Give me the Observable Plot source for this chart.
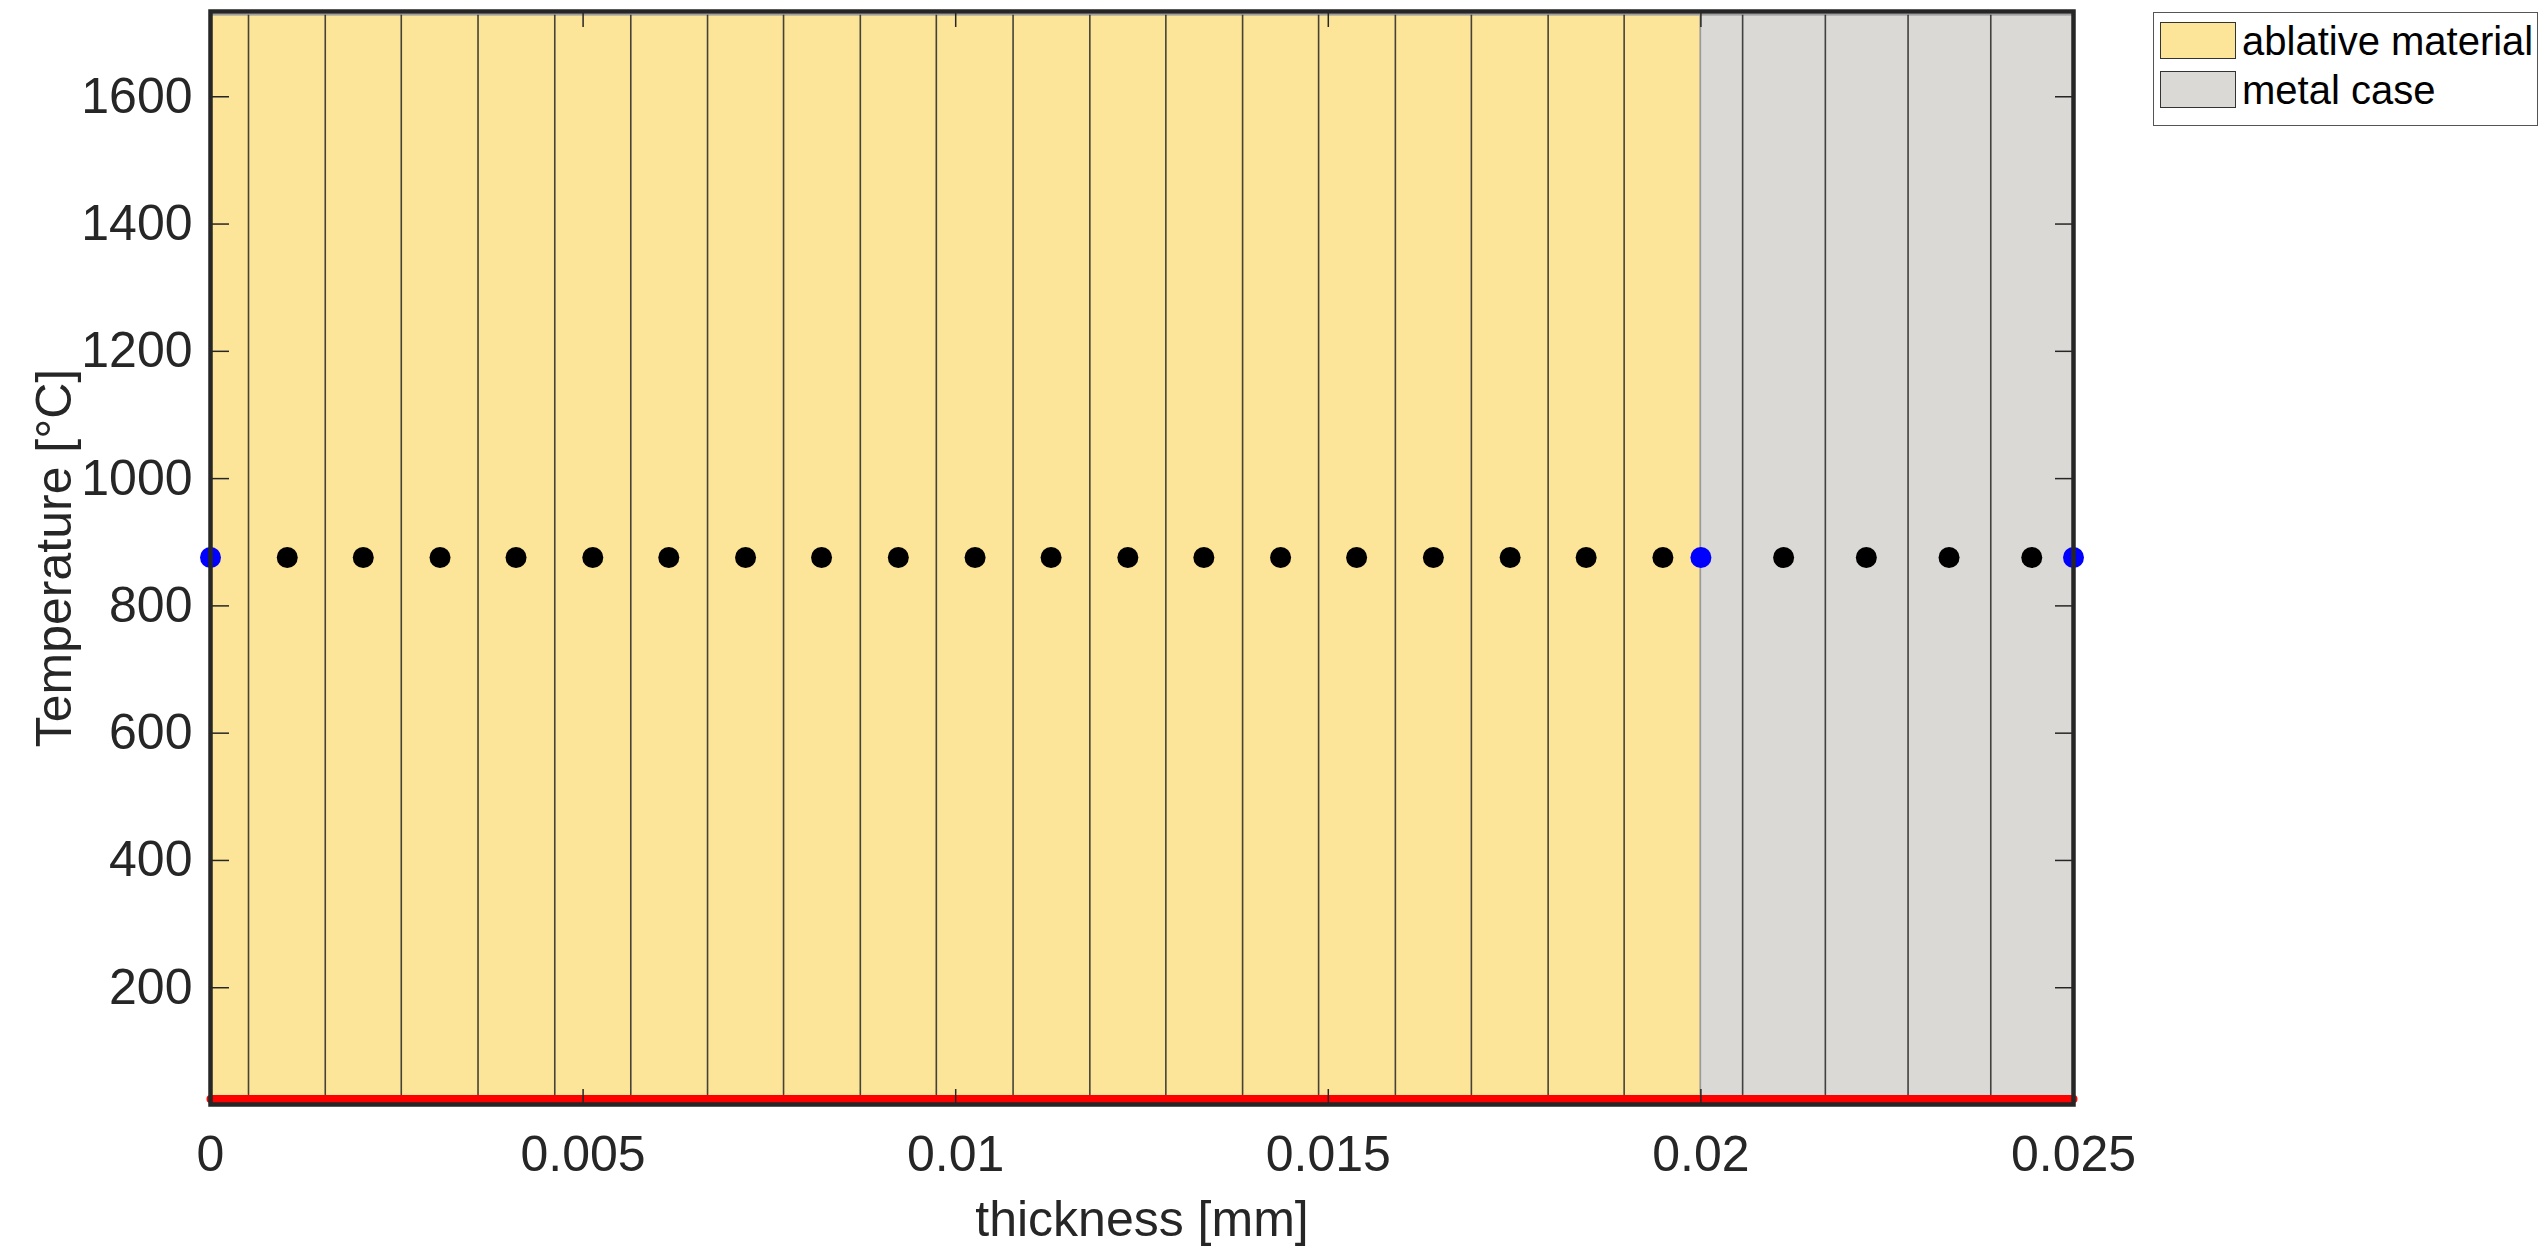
<!DOCTYPE html>
<html><head><meta charset="utf-8">
<script src="https://cdn.jsdelivr.net/npm/d3@7"></script>
<script src="https://cdn.jsdelivr.net/npm/@observablehq/plot@0.6"></script>
<style>
html,body{margin:0;padding:0;background:#fff;overflow:hidden;}
#wrap{position:relative;width:2542px;height:1247px;}
#legend{position:absolute;left:2153px;top:12px;width:385px;height:114px;box-sizing:border-box;border:1.5px solid #555;background:#fff;font-family:'Liberation Sans',Arial,Helvetica,sans-serif;font-size:40px;color:#000;}
.item{position:absolute;left:6px;display:flex;align-items:center;line-height:1;white-space:nowrap;}
.sw{width:76px;height:37px;box-sizing:border-box;border:1.5px solid #333;margin-right:6px;flex:none;}
</style></head>
<body><div id="wrap"><div id="chart"></div><div id="legend"></div></div>
<script>
// Layers (materials)
const layerNames = ["ablative material", "metal case"];
const layerStart = [0, 0.02];
const layerEnd = [0.02, 0.025];
const layerColors = ["#FCE598", "#DAD9D6"];
const patchBottom = 17;
const patchTop = 1728;

// Cell faces (thin vertical lines)
const faceX = [0.00051, 0.00154, 0.00256, 0.00359, 0.00462, 0.00564, 0.00667, 0.00769, 0.00872, 0.00974,
  0.01077, 0.0118, 0.01282, 0.01385, 0.01487, 0.0159, 0.01692, 0.01795, 0.01897,
  0.02056, 0.02167, 0.02278, 0.02389];

// Interior nodes (black) and boundary nodes (blue)
const nodeX = [0.00103, 0.00205, 0.00308, 0.0041, 0.00513, 0.00615, 0.00718, 0.0082, 0.00923, 0.01026,
  0.01128, 0.01231, 0.01333, 0.01436, 0.01538, 0.01641, 0.01744, 0.01846, 0.01949,
  0.02111, 0.02222, 0.02333, 0.02444];
const nodeT = [876, 876, 876, 876, 876, 876, 876, 876, 876, 876, 876, 876, 876, 876, 876, 876, 876, 876, 876,
  876, 876, 876, 876];
const boundaryX = [0, 0.02, 0.025];
const boundaryT = [876, 876, 876];

// Red line (ambient temperature)
const redX = [0, 0.025];
const redT = [25, 25];

// Axes
const xTicks = [0, 0.005, 0.01, 0.015, 0.02, 0.025];
const xTickLabels = ["0", "0.005", "0.01", "0.015", "0.02", "0.025"];
const yTicks = [200, 400, 600, 800, 1000, 1200, 1400, 1600];
const xDomain = [0, 0.025];
const yDomain = [16.5, 1734];

const layers = layerNames.map((n, i) => ({name: n, x1: layerStart[i], x2: layerEnd[i], color: layerColors[i]}));
const nodes = nodeX.map((x, i) => ({x, T: nodeT[i]}));
const bnodes = boundaryX.map((x, i) => ({x, T: boundaryT[i]}));
const red = redX.map((x, i) => ({x, T: redT[i]}));

const font = "'Liberation Sans',Arial,Helvetica,sans-serif";
const ink = "#262626";

const chart = Plot.plot({
  width: 2542,
  height: 1247,
  marginLeft: 210,
  marginRight: 469,
  marginTop: 11,
  marginBottom: 143,
  style: {fontFamily: font, fontSize: "50px", color: ink, background: "transparent"},
  x: {domain: xDomain},
  y: {domain: yDomain},
  marks: [
    Plot.rect(layers, {x1: "x1", x2: "x2", y1: patchBottom, y2: patchTop, fill: "color", stroke: "#9a9a9a", strokeWidth: 1.5}),
    Plot.ruleX(faceX, {y1: patchBottom, y2: patchTop, stroke: "#262626", strokeWidth: 1.6, strokeOpacity: 0.85}),
    Plot.line(red, {x: "x", y: "T", stroke: "#FF0000", strokeWidth: 8}),
    Plot.dot(nodes, {x: "x", y: "T", r: 10.5, fill: "#000000"}),
    Plot.dot(bnodes, {x: "x", y: "T", r: 10.5, fill: "#0000FF"}),
    // tick labels + axis titles
    Plot.axisX({anchor: "bottom", ticks: xTicks, tickSize: 0, tickPadding: 31, tickFormat: (d, i) => xTickLabels[i],
      label: "thickness [mm]", labelAnchor: "center", labelArrow: "none", labelOffset: 131}),
    Plot.axisY({anchor: "left", ticks: yTicks, tickSize: 0, tickPadding: 18, tickFormat: d => String(d),
      label: "Temperature [°C]", labelAnchor: "center", labelArrow: "none", labelOffset: 175}),
    // inward tick marks on all four sides
    Plot.axisX({anchor: "bottom", ticks: xTicks, tickSize: -15, fill: "none", stroke: ink, strokeWidth: 1.5}),
    Plot.axisX({anchor: "top", ticks: xTicks, tickSize: -15, fill: "none", stroke: ink, strokeWidth: 1.5}),
    Plot.axisY({anchor: "left", ticks: yTicks, tickSize: -19, fill: "none", stroke: ink, strokeWidth: 1.5}),
    Plot.axisY({anchor: "right", ticks: yTicks, tickSize: -19, fill: "none", stroke: ink, strokeWidth: 1.5}),
    Plot.frame({stroke: ink, strokeWidth: 4.5})
  ]
});
document.getElementById("chart").appendChild(chart);

// Legend
const legend = document.getElementById("legend");
const tops = [7.5, 56.5];
layers.forEach((l, i) => {
  const item = document.createElement("div");
  item.className = "item";
  item.style.top = tops[i] + "px";
  const sw = document.createElement("div");
  sw.className = "sw";
  sw.style.background = l.color;
  const t = document.createElement("span");
  t.textContent = l.name;
  item.appendChild(sw);
  item.appendChild(t);
  legend.appendChild(item);
});
</script>
</body></html>
